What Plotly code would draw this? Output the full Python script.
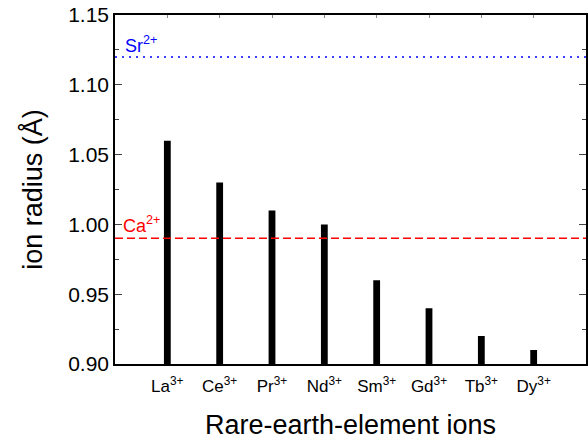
import plotly.graph_objects as go

ions = ["La", "Ce", "Pr", "Nd", "Sm", "Gd", "Tb", "Dy"]
radius = [1.06, 1.03, 1.01, 1.00, 0.96, 0.94, 0.92, 0.91]
positions = [1, 2, 3, 4, 5, 6, 7, 8]
ca_radius = 0.99
sr_radius = 1.12

FONT = "Liberation Sans, Arial, sans-serif"

fig = go.Figure()
fig.add_trace(go.Bar(x=positions, y=radius, width=0.13, marker=dict(color="black", line=dict(width=0)),
                     showlegend=False))
# dummy trace for right/top axes
fig.add_trace(go.Scatter(x=[0, 9], y=[0.9, 1.15], xaxis="x2", yaxis="y2", mode="none", showlegend=False,
                         hoverinfo="skip"))

fig.add_shape(type="line", xref="paper", x0=0, x1=1, y0=ca_radius, y1=ca_radius, yref="y",
              line=dict(color="red", width=1.5, dash="8px,4px"))
fig.add_shape(type="line", xref="paper", x0=0, x1=1, y0=sr_radius, y1=sr_radius, yref="y",
              line=dict(color="blue", width=1.5, dash="2px,5px"))

fig.add_annotation(x=0.012, xref="paper", y=ca_radius, yref="y", yanchor="bottom", xanchor="left",
                   text="Ca<sup>2+</sup>", showarrow=False, font=dict(color="red", size=18, family=FONT), yshift=0)
fig.add_annotation(x=0.016, xref="paper", y=sr_radius, yref="y", yanchor="bottom", xanchor="left",
                   text="Sr<sup>2+</sup>", showarrow=False, font=dict(color="blue", size=18, family=FONT), yshift=-1)

fig.update_layout(
    width=588, height=440,
    margin=dict(l=115, r=2, t=15, b=76),
    plot_bgcolor="white", paper_bgcolor="white",
    font=dict(family=FONT, color="black"),
    xaxis=dict(range=[0, 9], tickvals=positions, ticktext=[f"{s}<sup>3+</sup>" for s in ions],
               ticks="", showgrid=False, zeroline=False, showline=True, linecolor="black", linewidth=1.5,
               ticklabelstandoff=6,
               tickfont=dict(size=17), title=dict(text="Rare-earth-element ions", font=dict(size=27), standoff=20)),
    yaxis=dict(range=[0.9, 1.15], dtick=0.05, tickformat=".2f", ticks="inside", ticklen=7, tickwidth=1.2,
               showgrid=False, zeroline=False, showline=True, linecolor="black", linewidth=1.5,
               tickfont=dict(size=21),
               minor=dict(dtick=0.025, ticks="inside", ticklen=4, tickwidth=1.2, showgrid=False),
               title=dict(text="ion radius (Å)", font=dict(size=27), standoff=18)),
    xaxis2=dict(range=[0, 9], overlaying="x", side="top", dtick=1, ticks="inside", ticklen=3, tickcolor="#888",
                showticklabels=False, showgrid=False, zeroline=False, showline=True, linecolor="black", linewidth=1.5),
    yaxis2=dict(range=[0.9, 1.15], overlaying="y", side="right", anchor="x2", dtick=0.05, ticks="inside",
                ticklen=7, tickwidth=1.2, showticklabels=False, showgrid=False, zeroline=False, showline=True,
                linecolor="black", linewidth=1.5,
                minor=dict(dtick=0.025, ticks="inside", ticklen=4, tickwidth=1.2, showgrid=False)),
)

fig.write_html("out.html")
